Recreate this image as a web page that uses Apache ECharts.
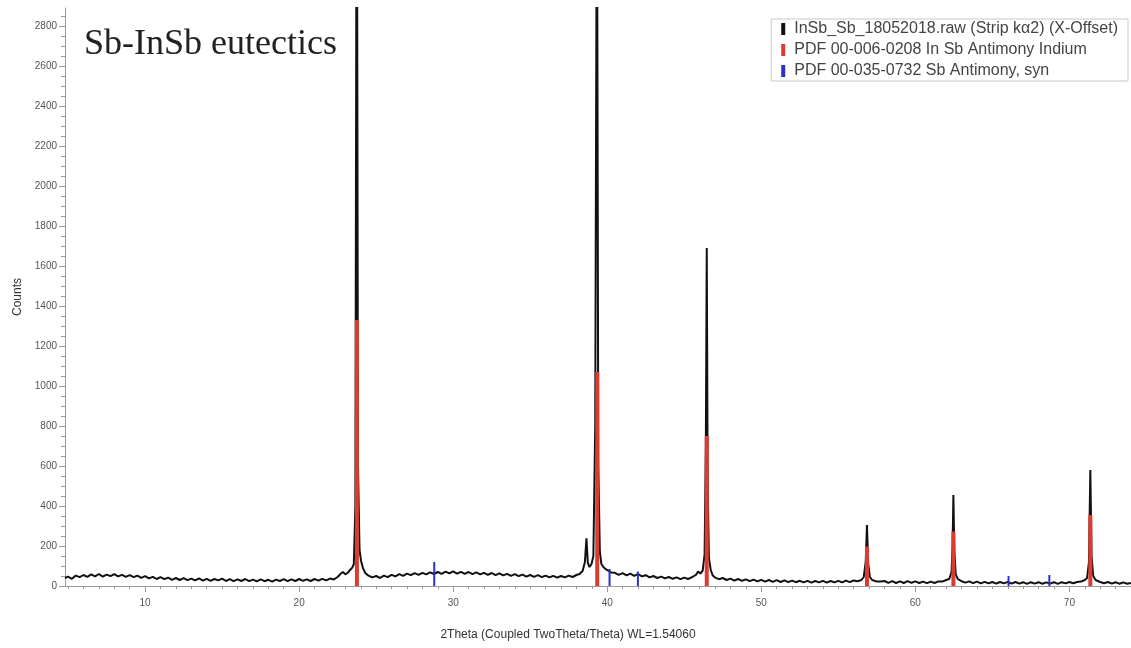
<!DOCTYPE html>
<html>
<head>
<meta charset="utf-8">
<script src="https://cdn.jsdelivr.net/npm/echarts@6/dist/echarts.min.js"></script>
<style>
html, body { margin: 0; padding: 0; background: #fff; }
#chart { width: 1131px; height: 648px; }
</style>
</head>
<body>
<div id="chart"></div>
<script>
// axis ticks
const xTicks = [10, 20, 30, 40, 50, 60, 70]
const yTicks = [0, 200, 400, 600, 800, 1000, 1200, 1400, 1600, 1800, 2000, 2200, 2400, 2600, 2800]

// measured scan, [2theta, counts]
const scan = [
  [4.8, 40], [5.0, 47], [5.25, 36], [5.5, 52], [5.75, 44], [6.0, 55], [6.25, 46], [6.5, 58], [6.75, 48], [7.0, 60],
  [7.25, 47], [7.5, 57], [7.75, 49], [8.0, 59], [8.25, 48], [8.5, 56], [8.75, 46], [9.0, 54], [9.25, 44], [9.5, 52],
  [9.75, 41], [10.0, 49], [10.25, 38], [10.5, 46], [10.75, 35], [11.0, 44], [11.25, 34], [11.5, 42], [11.75, 31], [12.0, 40],
  [12.25, 30], [12.5, 39], [12.75, 29], [13.0, 37], [13.25, 28], [13.5, 38], [13.75, 27], [14.0, 36], [14.25, 26], [14.5, 35],
  [14.75, 28], [15.0, 37], [15.25, 25], [15.5, 34], [15.75, 24], [16.0, 33], [16.25, 25], [16.5, 35], [16.75, 24], [17.0, 32],
  [17.25, 23], [17.5, 33], [17.75, 24], [18.0, 31], [18.25, 22], [18.5, 32], [18.75, 25], [19.0, 34], [19.25, 24], [19.5, 33],
  [19.75, 25], [20.0, 35], [20.25, 26], [20.5, 33], [20.75, 25], [21.0, 35], [21.25, 27], [21.5, 36], [21.75, 28], [22.0, 37],
  [22.25, 33], [22.5, 45], [22.7, 62], [22.85, 70], [23.0, 58], [23.15, 66], [23.3, 80], [23.45, 92], [23.55, 110], [23.65, 400],
  [23.74, 4200], [23.82, 600], [23.92, 180], [24.02, 125], [24.15, 88], [24.3, 64], [24.5, 52], [24.75, 43], [25.0, 50], [25.25, 40],
  [25.5, 52], [25.75, 44], [26.0, 56], [26.25, 48], [26.5, 59], [26.75, 51], [27.0, 62], [27.25, 54], [27.5, 64], [27.75, 56],
  [28.0, 66], [28.25, 58], [28.5, 68], [28.75, 60], [29.0, 70], [29.25, 61], [29.5, 72], [29.75, 63], [30.0, 73], [30.25, 62],
  [30.5, 71], [30.75, 61], [31.0, 70], [31.25, 59], [31.5, 68], [31.75, 58], [32.0, 66], [32.25, 56], [32.5, 65], [32.75, 54],
  [33.0, 63], [33.25, 53], [33.5, 61], [33.75, 51], [34.0, 59], [34.25, 49], [34.5, 57], [34.75, 47], [35.0, 55], [35.25, 46],
  [35.5, 54], [35.75, 44], [36.0, 52], [36.25, 43], [36.5, 51], [36.75, 42], [37.0, 50], [37.25, 43], [37.5, 52], [37.75, 45],
  [38.0, 55], [38.2, 60], [38.4, 75], [38.55, 120], [38.65, 238], [38.74, 115], [38.85, 95], [38.98, 110], [39.1, 150], [39.22, 800],
  [39.33, 3800], [39.42, 600], [39.52, 170], [39.62, 110], [39.75, 95], [39.9, 84], [40.0, 80], [40.25, 68], [40.5, 66], [40.75, 56],
  [41.0, 64], [41.25, 53], [41.5, 62], [41.75, 51], [42.0, 60], [42.25, 48], [42.5, 54], [42.75, 43], [43.0, 50], [43.25, 40],
  [43.5, 47], [43.75, 38], [44.0, 45], [44.25, 36], [44.5, 43], [44.75, 34], [45.0, 42], [45.25, 35], [45.5, 44], [45.75, 55],
  [45.9, 72], [46.05, 62], [46.2, 78], [46.32, 160], [46.4, 700], [46.46, 1690], [46.52, 500], [46.6, 140], [46.72, 80], [46.85, 52],
  [47.0, 42], [47.25, 34], [47.5, 40], [47.75, 30], [48.0, 37], [48.25, 27], [48.5, 35], [48.75, 26], [49.0, 33], [49.25, 24],
  [49.5, 32], [49.75, 23], [50.0, 31], [50.25, 22], [50.5, 30], [50.75, 21], [51.0, 29], [51.25, 20], [51.5, 28], [51.75, 19],
  [52.0, 27], [52.25, 19], [52.5, 26], [52.75, 18], [53.0, 26], [53.25, 17], [53.5, 25], [53.75, 18], [54.0, 26], [54.25, 17],
  [54.5, 25], [54.75, 18], [55.0, 26], [55.25, 18], [55.5, 27], [55.75, 19], [56.0, 28], [56.25, 24], [56.5, 30], [56.65, 45],
  [56.78, 120], [56.86, 305], [56.94, 110], [57.05, 45], [57.2, 30], [57.5, 22], [57.75, 22], [58.0, 25], [58.25, 16], [58.5, 24],
  [58.75, 15], [59.0, 23], [59.25, 15], [59.5, 24], [59.75, 16], [60.0, 23], [60.25, 15], [60.5, 22], [60.75, 14], [61.0, 22],
  [61.25, 15], [61.5, 23], [61.75, 22], [62.0, 30], [62.2, 35], [62.35, 70], [62.42, 200], [62.47, 455], [62.53, 180], [62.62, 60],
  [62.75, 35], [63.0, 24], [63.25, 17], [63.5, 23], [63.75, 14], [64.0, 22], [64.25, 13], [64.5, 21], [64.75, 13], [65.0, 20],
  [65.25, 12], [65.5, 20], [65.75, 13], [66.0, 21], [66.25, 12], [66.5, 20], [66.75, 12], [67.0, 19], [67.25, 11], [67.5, 19],
  [67.75, 12], [68.0, 19], [68.25, 11], [68.5, 18], [68.75, 12], [69.0, 19], [69.25, 11], [69.5, 19], [69.75, 13], [70.0, 20],
  [70.25, 14], [70.5, 20], [70.75, 22], [71.0, 30], [71.15, 40], [71.27, 120], [71.36, 580], [71.44, 150], [71.55, 50], [71.7, 30],
  [72.0, 20], [72.25, 14], [72.5, 20], [72.75, 12], [73.0, 19], [73.25, 11], [73.5, 18], [73.75, 11], [74.0, 15]
]

// reference lines (PDF cards)
const insbPos = [23.75, 39.35, 46.46, 56.86, 62.47, 71.36]
const insbInt = [1330, 1070, 750, 197, 272, 355]
const sbPos = [28.77, 40.15, 41.99, 66.05, 68.7]
const sbInt = [120, 85, 72, 50, 55]

const names = [
  'InSb_Sb_18052018.raw (Strip kα2) (X-Offset)',
  'PDF 00-006-0208 In Sb Antimony Indium',
  'PDF 00-035-0732 Sb Antimony, syn'
]

const xMinor = []
for (let v = 5; v <= 74; v++) if (v % 10) xMinor.push(v)
const yMinor = []
for (let v = 50; v <= 2850; v += 50) if (v % 200) yMinor.push(v)

function sticks (pos, h) {
  const d = []
  pos.forEach((x, i) => {
    d.push([x, 0], [x, h[i]], [x, '-'])
  })
  return d
}

const axisColor = '#9a9a9a'
const labelStyle = { color: '#555', fontSize: 10, fontFamily: 'Liberation Sans' }

const chart = echarts.init(document.getElementById('chart'))
chart.setOption({
  animation: false,
  backgroundColor: '#fff',
  title: {
    text: 'Sb-InSb eutectics',
    left: 84,
    top: 27,
    padding: 0,
    textStyle: { fontFamily: 'Liberation Serif', fontSize: 36, fontWeight: 'normal', color: '#222' }
  },
  legend: {
    data: names,
    orient: 'vertical',
    right: 3,
    top: 19,
    icon: 'rect',
    itemWidth: 4,
    itemHeight: 12,
    itemGap: 5,
    backgroundColor: '#fff',
    borderColor: '#c8c8c8',
    borderWidth: 1,
    padding: [2, 10, 2, 10],
    textStyle: { fontSize: 16, color: '#444', fontFamily: 'Liberation Sans', padding: [0, 0, 0, 4] }
  },
  grid: { left: 65, right: 0, top: 8, bottom: 62, outerBoundsMode: 'none' },
  xAxis: [
    {
      type: 'value',
      min: 4.8,
      max: 74,
      name: '2Theta (Coupled TwoTheta/Theta) WL=1.54060',
      nameLocation: 'middle',
      nameGap: 43,
      nameTextStyle: { fontSize: 12, color: '#333', fontFamily: 'Liberation Sans', padding: [0, 60, 0, 0] },
      axisLine: { lineStyle: { color: axisColor } },
      axisTick: { customValues: xTicks, length: 6, lineStyle: { color: axisColor } },
      axisLabel: Object.assign({ customValues: xTicks, margin: 12 }, labelStyle),
      splitLine: { show: false }
    },
    {
      type: 'value',
      min: 4.8,
      max: 74,
      position: 'bottom',
      axisLine: { show: false },
      axisTick: { customValues: xMinor, length: 3, lineStyle: { color: axisColor } },
      axisLabel: { show: false },
      splitLine: { show: false }
    }
  ],
  yAxis: [
    {
      type: 'value',
      min: 0,
      max: 2890,
      name: 'Counts',
      nameLocation: 'middle',
      nameGap: 41,
      nameTextStyle: { fontSize: 12, color: '#333', fontFamily: 'Liberation Sans' },
      axisLine: { show: true, lineStyle: { color: axisColor } },
      axisTick: { show: true, customValues: yTicks, length: 6, lineStyle: { color: axisColor } },
      axisLabel: Object.assign({ customValues: yTicks, margin: 8, formatter: v => String(v) }, labelStyle),
      splitLine: { show: false }
    },
    {
      type: 'value',
      min: 0,
      max: 2890,
      position: 'left',
      axisLine: { show: false },
      axisTick: { show: true, customValues: yMinor, length: 4, lineStyle: { color: axisColor } },
      axisLabel: { show: false },
      splitLine: { show: false }
    }
  ],
  series: [
    {
      name: names[0],
      type: 'line',
      data: scan,
      showSymbol: false,
      symbol: 'none',
      color: '#111',
      lineStyle: { color: '#111', width: 2 },
      z: 2
    },
    {
      name: names[1],
      type: 'line',
      data: sticks(insbPos, insbInt),
      showSymbol: false,
      symbol: 'none',
      connectNulls: false,
      color: '#dd3b2f',
      lineStyle: { color: '#dd3b2f', width: 4, cap: 'butt' },
      z: 4
    },
    {
      name: names[2],
      type: 'line',
      data: sticks(sbPos, sbInt),
      showSymbol: false,
      symbol: 'none',
      connectNulls: false,
      color: '#2b33c6',
      lineStyle: { color: '#2b33c6', width: 2, cap: 'butt' },
      z: 3
    }
  ]
})
</script>
</body>
</html>
